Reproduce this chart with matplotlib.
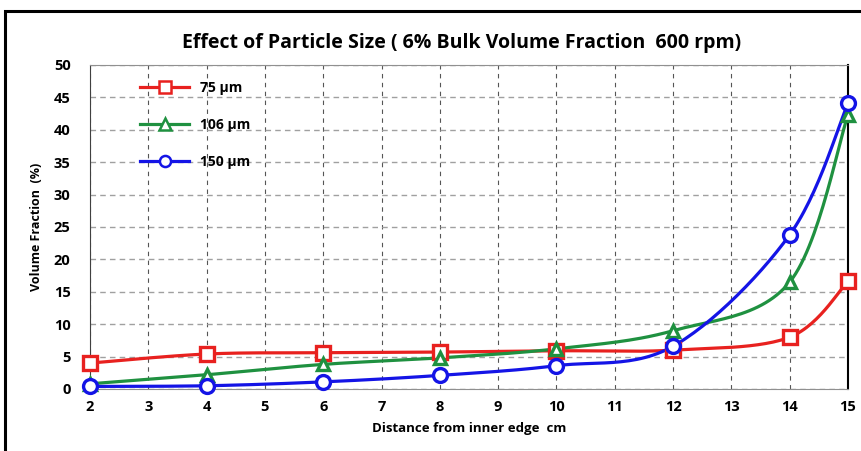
import numpy as np
import matplotlib
matplotlib.use('Agg')
import matplotlib.pyplot as plt
from matplotlib.patches import Rectangle

# values
distance = [2, 4, 6, 8, 10, 12, 14, 15]
vf_75 = [4.0, 5.4, 5.6, 5.7, 5.9, 6.0, 8.0, 16.6]
vf_106 = [0.8, 2.2, 3.8, 4.8, 6.2, 9.0, 16.5, 42.3]
vf_150 = [0.4, 0.5, 1.1, 2.1, 3.6, 6.6, 23.8, 44.1]
labels = ['75 µm', '106 µm', '150 µm']
colors = ['#e8211f', '#1f9140', '#1414e6']
markers = ['s', '^', 'o']

plt.rcParams['font.family'] = ['Open Sans', 'DejaVu Sans']


def smooth(x, y, n=30):
    # excel-like smoothed line: catmull-rom turned into cubic beziers
    x = np.asarray(x, float)
    y = np.asarray(y, float)
    px = np.concatenate([[x[0]], x, [x[-1]]])
    py = np.concatenate([[y[0]], y, [y[-1]]])
    t = np.linspace(0, 1, n)
    xs, ys = [], []
    for i in range(1, len(px) - 2):
        x0, x1, x2, x3 = px[i - 1], px[i], px[i + 1], px[i + 2]
        y0, y1, y2, y3 = py[i - 1], py[i], py[i + 1], py[i + 2]
        c1x, c1y = x1 + (x2 - x0) / 6, y1 + (y2 - y0) / 6
        c2x, c2y = x2 - (x3 - x1) / 6, y2 - (y3 - y1) / 6
        b = [(1 - t) ** 3, 3 * (1 - t) ** 2 * t, 3 * (1 - t) * t ** 2, t ** 3]
        xs.append(b[0] * x1 + b[1] * c1x + b[2] * c2x + b[3] * x2)
        ys.append(b[0] * y1 + b[1] * c1y + b[2] * c2y + b[3] * y2)
    return np.concatenate(xs), np.concatenate(ys)


fig = plt.figure(figsize=(8.62, 4.51), dpi=100)
fig.patches.append(Rectangle((0.006, -0.01), 1.2, 0.985, transform=fig.transFigure,
                             fill=False, edgecolor='black', linewidth=2.2))
ax = fig.add_axes([90 / 862, 1 - 389 / 451, 758 / 862, 324 / 451])

for yv, lab, c, m in zip([vf_75, vf_106, vf_150], labels, colors, markers):
    sx, sy = smooth(distance, yv)
    ax.plot(sx, sy, color=c, linewidth=2.3, zorder=3, clip_on=False)
    ax.plot(distance, yv, linestyle='none', marker=m, markersize=10 if m != '^' else 9,
            markerfacecolor='white', markeredgecolor=c, markeredgewidth=2.4, zorder=4,
            clip_on=False)
    ax.plot([], [], color=c, linewidth=2.3, marker=m, markersize=8,
            markerfacecolor='white', markeredgecolor=c, markeredgewidth=1.8, label=lab)

ax.set_xlim(2, 15)
ax.set_ylim(0, 50)
ax.set_xticks(range(2, 16))
ax.set_yticks(range(0, 51, 5))
ax.tick_params(axis='both', length=0, labelsize=10.5, pad=8)
for t in ax.get_xticklabels() + ax.get_yticklabels():
    t.set_fontweight('bold')
ax.tick_params(axis='y', pad=14)
ax.grid(axis='y', color='#a0a0a0', linestyle=(0, (4, 3)), linewidth=1)
ax.grid(axis='x', color='#555555', linestyle=(0, (4, 4)), linewidth=0.8)
ax.set_axisbelow(True)
ax.spines['left'].set_color('#404040')
ax.spines['right'].set_color('black')
ax.spines['right'].set_linewidth(1.5)
ax.spines['top'].set_color('#909090')
ax.spines['bottom'].set_color('#909090')

ax.set_xlabel('Distance from inner edge  cm', fontsize=9.5, fontweight='bold', labelpad=6)
ax.set_ylabel('Volume Fraction  (%)', fontsize=9, fontweight='bold', labelpad=8)
fig.text(0.535, 0.905, 'Effect of Particle Size ( 6% Bulk Volume Fraction  600 rpm)',
         ha='center', va='center', fontsize=14, fontweight='bold')

ax.legend(loc='upper left', bbox_to_anchor=(0.05, 0.99), frameon=False,
          handlelength=3.5, labelspacing=1.65, prop={'weight': 'bold', 'size': 10})

fig.savefig('out.png', dpi=100)
